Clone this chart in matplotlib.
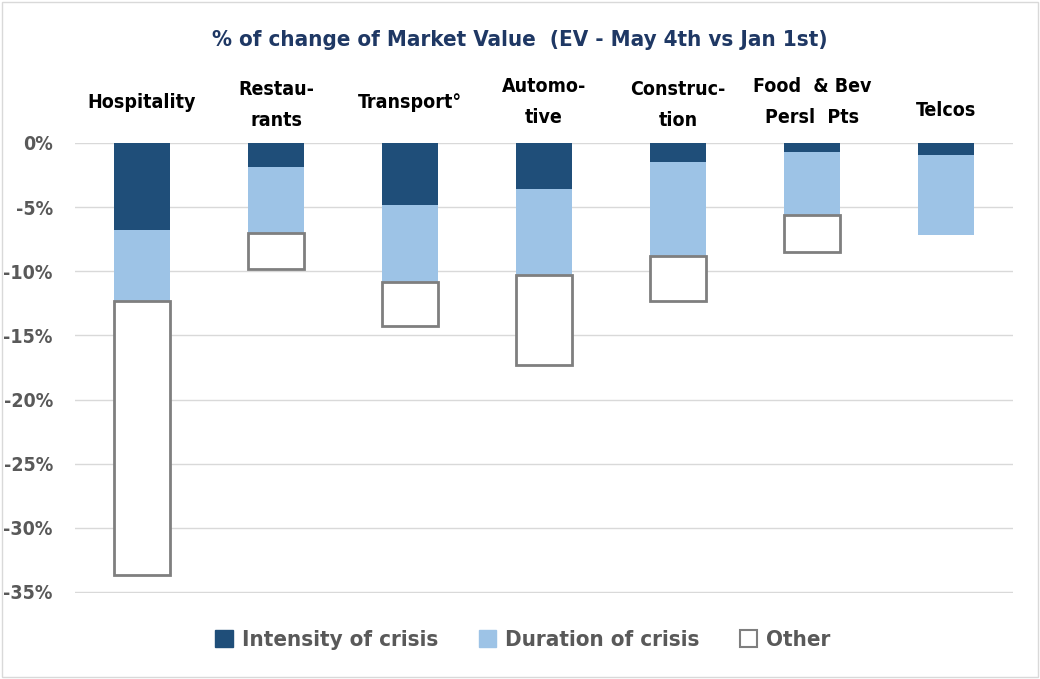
import matplotlib
matplotlib.use("Agg")
import matplotlib.pyplot as plt
import matplotlib.transforms as mtransforms
from matplotlib.patches import Patch, Rectangle

categories = ["Hospitality", "Restau-\nrants", "Transport°", "Automo-\ntive",
              "Construc-\ntion", "Food  & Bev\nPersl  Pts", "Telcos"]
intensity = [-6.8, -1.9, -4.8, -3.6, -1.5, -0.7, -0.9]
duration = [-5.5, -5.1, -6.0, -6.7, -7.3, -4.9, -6.3]
other = [-21.4, -2.8, -3.5, -7.0, -3.5, -2.9, 0.0]
yticks = [0, -5, -10, -15, -20, -25, -30, -35]
ytick_labels = ["0%", "-5%", "-10%", "-15%", "-20%", "-25%", "-30%", "-35%"]
series_names = ["Intensity of crisis", "Duration of crisis", "Other"]

plt.rcParams['font.family'] = ['DejaVu Sans']
plt.rcParams['font.stretch'] = 'condensed'
STR = 'condensed'

dark = "#1F4E79"
light = "#9DC3E6"
edge_gray = "#7F7F7F"

fig = plt.figure(figsize=(10.4, 6.79), dpi=100)
ax = fig.add_axes([75/1040, 1-593/679, 938/1040, 450/679])

x = list(range(len(categories)))
w = 0.42
ax.bar(x, intensity, width=w, color=dark, zorder=3)
ax.bar(x, duration, width=w, bottom=intensity, color=light, zorder=3)
bot2 = [a + b for a, b in zip(intensity, duration)]
lws = [2 if v != 0 else 0 for v in other]
ax.bar(x, other, width=w, bottom=bot2, facecolor="white", edgecolor=edge_gray,
       linewidth=lws, zorder=3)

ax.set_xlim(-0.5, len(categories) - 0.5)
ax.set_ylim(-35.08, 0)
ax.set_yticks(yticks)
ax.set_yticklabels(ytick_labels, fontsize=14, fontweight="bold", color="#595959",
                   fontstretch=STR)
ax.set_xticks([])
ax.tick_params(axis="y", length=0, pad=16)
ax.yaxis.grid(True, color="#D9D9D9", linewidth=1, zorder=0)
for s in ax.spines.values():
    s.set_visible(False)
ax.set_axisbelow(True)

# category labels above the plot
label_y = [103, 105, 103, 102, 105, 102, 111]
trans = mtransforms.blended_transform_factory(ax.transData, fig.transFigure)
for xi, lab, ly in zip(x, categories, label_y):
    ax.text(xi, 1 - ly/679, lab, transform=trans, ha="center", va="center",
            fontsize=14, fontweight="bold", color="black", linespacing=1.75,
            fontstretch=STR, clip_on=False)

fig.text(0.5, 1 - 40/679, "% of change of Market Value  (EV - May 4th vs Jan 1st)",
         ha="center", va="center", fontsize=16, fontweight="bold", color="#1F3864",
         fontstretch=STR)

handles = [Patch(facecolor=dark, edgecolor=dark),
           Patch(facecolor=light, edgecolor=light),
           Patch(facecolor="white", edgecolor=edge_gray, linewidth=1.5)]
fig.legend(handles, series_names, loc="center", bbox_to_anchor=(0.503, 1 - 640/679),
           ncol=3, frameon=False, handlelength=0.8, handleheight=0.8,
           handletextpad=0.4, columnspacing=1.8, labelcolor="#595959",
           prop={"size": 16, "weight": "bold", "stretch": STR})

fig.patches.append(Rectangle((0.002, 0.003), 0.996, 0.994, transform=fig.transFigure,
                             fill=False, edgecolor="#D9D9D9", linewidth=1))

fig.savefig("out.png", dpi=100)
